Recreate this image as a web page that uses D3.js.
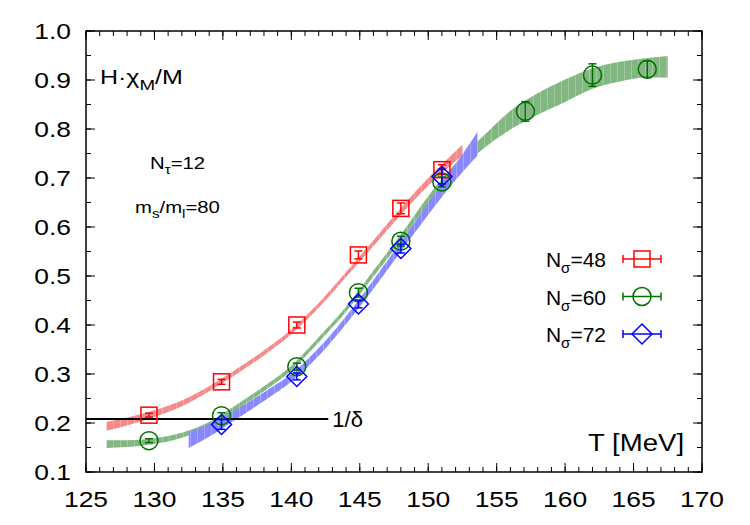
<!DOCTYPE html>
<html>
<head>
<meta charset="utf-8">
<script src="https://cdn.jsdelivr.net/npm/d3@7"></script>
<style>
  body { margin: 0; background: #fff; }
  svg text { font-family: "Liberation Sans", Arial, sans-serif; fill: #000; }
</style>
</head>
<body>
<svg id="chart" width="750" height="525"></svg>
<script>
// data
var seriesNames = ["N\u03c3=48", "N\u03c3=60", "N\u03c3=72"];
var seriesColors = ["#ff0000", "#007000", "#0000ff"];
var bandColors = ["#f58a8a", "#82b782", "#8888ff"];

var tRed = [129.6, 134.9, 140.4, 144.9, 148.0, 151.0];
var vRed = [0.216, 0.284, 0.400, 0.543, 0.638, 0.717];
var eRed = [0.004, 0.005, 0.006, 0.008, 0.011, 0.010];

var tGreen = [129.6, 134.9, 140.4, 144.9, 148.0, 151.0, 157.1, 162.0, 166.0];
var vGreen = [0.164, 0.215, 0.315, 0.466, 0.571, 0.692, 0.836, 0.910, 0.922];
var eGreen = [0.004, 0.006, 0.007, 0.009, 0.010, 0.010, 0.020, 0.023, 0.017];

var tBlue = [134.9, 140.4, 144.9, 148.0, 151.0];
var vBlue = [0.197, 0.295, 0.443, 0.556, 0.703];
var eBlue = [0.010, 0.007, 0.008, 0.009, 0.015];

// bands: T, centre, half width
var bandRedT = [126.5, 128, 130, 132, 134, 136, 138, 140, 142, 144, 146, 148, 150, 152.5];
var bandRedC = [0.193, 0.203, 0.219, 0.240, 0.270, 0.305, 0.343, 0.386, 0.440, 0.503, 0.567, 0.632, 0.692, 0.757];
var bandRedW = [0.009, 0.008, 0.007, 0.006, 0.005, 0.005, 0.005, 0.005, 0.005, 0.005, 0.006, 0.007, 0.008, 0.011];

var bandGreenT = [126.5, 128, 130, 132, 134, 136, 138, 140, 142, 144, 146, 148, 150, 152, 154, 156, 158, 160, 162, 164, 166, 167.5];
var bandGreenC = [0.157, 0.158, 0.163, 0.175, 0.197, 0.232, 0.270, 0.312, 0.370, 0.432, 0.505, 0.578, 0.655, 0.720, 0.772, 0.818, 0.851, 0.878, 0.903, 0.917, 0.925, 0.927];
var bandGreenW = [0.008, 0.007, 0.006, 0.005, 0.005, 0.005, 0.005, 0.005, 0.005, 0.005, 0.006, 0.007, 0.008, 0.010, 0.013, 0.019, 0.022, 0.023, 0.021, 0.020, 0.020, 0.022];

var bandBlueT = [132.5, 134, 136, 138, 140, 142, 144, 146, 148, 150, 152, 153.6];
var bandBlueC = [0.165, 0.185, 0.218, 0.254, 0.292, 0.345, 0.410, 0.483, 0.560, 0.637, 0.712, 0.770];
var bandBlueW = [0.016, 0.013, 0.010, 0.009, 0.008, 0.008, 0.008, 0.009, 0.010, 0.012, 0.016, 0.024];

var xTicks = [125, 130, 135, 140, 145, 150, 155, 160, 165, 170];
var yTicks = [0.1, 0.2, 0.3, 0.4, 0.5, 0.6, 0.7, 0.8, 0.9, 1.0];
var deltaInv = 0.208;

(function () {
    var margin = { top: 31, right: 48, bottom: 53, left: 86 };
    var svg = d3.select("#chart");
    var width = +svg.attr("width") - margin.left - margin.right;
    var height = +svg.attr("height") - margin.top - margin.bottom;

    var x = d3.scaleLinear().domain([125, 170]).range([0, width]);
    var y = d3.scaleLinear().domain([0.1, 1.0]).range([height, 0]);

    // the original's lettering is a bit wider than it is tall
    function label(parent, px, py, size, sx) {
        return parent.append("text")
            .attr("transform", "translate(" + px + "," + py + ") scale(" + sx + ",1)")
            .attr("font-size", size);
    }

    var g = svg.append("g")
        .attr("transform", "translate(" + margin.left + "," + margin.top + ")");

    // stripe patterns for the bands
    var defs = svg.append("defs");
    bandColors.forEach(function (c, i) {
        var p = defs.append("pattern")
            .attr("id", "band" + i)
            .attr("patternUnits", "userSpaceOnUse")
            .attr("width", 7).attr("height", 10);
        p.append("rect").attr("width", 7).attr("height", 10).attr("fill", c);
        p.append("rect").attr("x", 6.3).attr("width", 0.7).attr("height", 10)
            .attr("fill", "#fff").attr("opacity", 0.35);
    });

    // bands
    var bands = [
        [bandRedT, bandRedC, bandRedW],
        [bandGreenT, bandGreenC, bandGreenW],
        [bandBlueT, bandBlueC, bandBlueW]
    ];
    var area = d3.area()
        .curve(d3.curveMonotoneX)
        .x(function (d) { return x(d.t); })
        .y0(function (d) { return y(d.c - d.w); })
        .y1(function (d) { return y(d.c + d.w); });

    bands.forEach(function (b, i) {
        var rows = b[0].map(function (t, k) { return { t: t, c: b[1][k], w: b[2][k] }; });
        g.append("path")
            .datum(rows)
            .attr("fill", "url(#band" + i + ")")
            .attr("d", area);
    });

    // 1/delta line
    g.append("line")
        .attr("x1", x(125)).attr("x2", x(142.7))
        .attr("y1", y(deltaInv)).attr("y2", y(deltaInv))
        .attr("stroke", "#000").attr("stroke-width", 2);
    label(g, x(142.7) + 4, y(deltaInv) + 8, 22, 1).text("1/\u03b4");

    // axes with mirrored inward ticks
    var minorX = d3.range(125, 171, 1);
    var minorY = d3.range(0.1, 1.0001, 0.05);

    function tickSet(axisG, vals, isMajor, orient) {
        var len = isMajor ? 9 : 5;
        axisG.selectAll(null).data(vals).enter().append("line")
            .attr("stroke", "#000").attr("stroke-width", 1)
            .each(function (v) {
                var s = d3.select(this);
                if (orient === "bottom") s.attr("x1", x(v)).attr("x2", x(v)).attr("y1", height).attr("y2", height - len);
                if (orient === "top") s.attr("x1", x(v)).attr("x2", x(v)).attr("y1", 0).attr("y2", len);
                if (orient === "left") s.attr("y1", y(v)).attr("y2", y(v)).attr("x1", 0).attr("x2", len);
                if (orient === "right") s.attr("y1", y(v)).attr("y2", y(v)).attr("x1", width).attr("x2", width - len);
            });
    }
    var ticks = g.append("g").attr("class", "ticks");
    ["bottom", "top"].forEach(function (o) {
        tickSet(ticks, minorX, false, o);
        tickSet(ticks, xTicks, true, o);
    });
    ["left", "right"].forEach(function (o) {
        tickSet(ticks, minorY, false, o);
        tickSet(ticks, yTicks, true, o);
    });

    xTicks.forEach(function (d) {
        label(g, x(d), height + 35, 22, 1.2)
            .attr("text-anchor", "middle")
            .text(d);
    });
    yTicks.forEach(function (d) {
        label(g, -15, y(d) + 8, 22, 1.2)
            .attr("text-anchor", "end")
            .text(d.toFixed(1));
    });

    g.append("rect")
        .attr("width", width).attr("height", height)
        .attr("fill", "none").attr("stroke", "#000").attr("stroke-width", 1.5);

    // markers
    function marker(sel, kind, color) {
        if (kind === 0) {
            sel.append("rect").attr("x", -8).attr("y", -8).attr("width", 16).attr("height", 16)
                .attr("fill", "none").attr("stroke", color).attr("stroke-width", 1.5);
        } else if (kind === 1) {
            sel.append("circle").attr("r", 9)
                .attr("fill", "none").attr("stroke", color).attr("stroke-width", 1.5);
        } else {
            sel.append("path").attr("d", "M0,-10L10,0L0,10L-10,0Z")
                .attr("fill", "none").attr("stroke", color).attr("stroke-width", 1.5);
        }
    }

    var pointSets = [
        [tRed, vRed, eRed],
        [tGreen, vGreen, eGreen],
        [tBlue, vBlue, eBlue]
    ];
    pointSets.forEach(function (ps, i) {
        var rows = ps[0].map(function (t, k) { return { t: t, v: ps[1][k], e: ps[2][k] }; });
        var col = seriesColors[i];
        var pts = g.append("g").selectAll("g").data(rows).enter().append("g");
        pts.append("line")
            .attr("x1", function (d) { return x(d.t); }).attr("x2", function (d) { return x(d.t); })
            .attr("y1", function (d) { return y(d.v - d.e); }).attr("y2", function (d) { return y(d.v + d.e); })
            .attr("stroke", col).attr("stroke-width", 1.5);
        [-1, 1].forEach(function (sgn) {
            pts.append("line")
                .attr("x1", function (d) { return x(d.t) - 4; }).attr("x2", function (d) { return x(d.t) + 4; })
                .attr("y1", function (d) { return y(d.v + sgn * d.e); }).attr("y2", function (d) { return y(d.v + sgn * d.e); })
                .attr("stroke", col).attr("stroke-width", 1.5);
        });
        pts.each(function (d) {
            var m = d3.select(this).append("g")
                .attr("transform", "translate(" + x(d.t) + "," + y(d.v) + ")");
            marker(m, i, col);
        });
    });

    // legend
    var legend = svg.append("g");
    seriesNames.forEach(function (name, i) {
        var ly = 259 + i * 37.5;
        var col = seriesColors[i];
        var t = label(legend, 606, ly + 8, 21, 1).attr("text-anchor", "end");
        t.append("tspan").text("N");
        t.append("tspan").attr("font-size", 15).attr("dy", 6).text("\u03c3");
        t.append("tspan").attr("dy", -6).text(name.slice(2));
        legend.append("line").attr("x1", 623).attr("x2", 661).attr("y1", ly).attr("y2", ly)
            .attr("stroke", col).attr("stroke-width", 1.5);
        [623, 661].forEach(function (cx) {
            legend.append("line").attr("x1", cx).attr("x2", cx).attr("y1", ly - 4).attr("y2", ly + 4)
                .attr("stroke", col).attr("stroke-width", 1.5);
        });
        var m = legend.append("g").attr("transform", "translate(642," + ly + ")");
        marker(m, i, col);
    });

    // labels
    var hl = label(svg, 100, 84, 20, 1.25);
    hl.append("tspan").text("H\u00b7\u03c7");
    hl.append("tspan").attr("font-size", 15).attr("dy", 6).text("M");
    hl.append("tspan").attr("dy", -6).text("/M");

    var nt = label(svg, 150, 169, 16, 1.27);
    nt.append("tspan").text("N");
    nt.append("tspan").attr("font-size", 12).attr("dy", 5).text("\u03c4");
    nt.append("tspan").attr("dy", -5).text("=12");

    var ms = label(svg, 135, 213, 16, 1.27);
    ms.append("tspan").text("m");
    ms.append("tspan").attr("font-size", 12).attr("dy", 5).text("s");
    ms.append("tspan").attr("dy", -5).text("/m");
    ms.append("tspan").attr("font-size", 12).attr("dy", 5).text("l");
    ms.append("tspan").attr("dy", -5).text("=80");

    label(svg, 588, 451, 24, 1.15).text("T [MeV]");
}());
</script>
</body>
</html>
